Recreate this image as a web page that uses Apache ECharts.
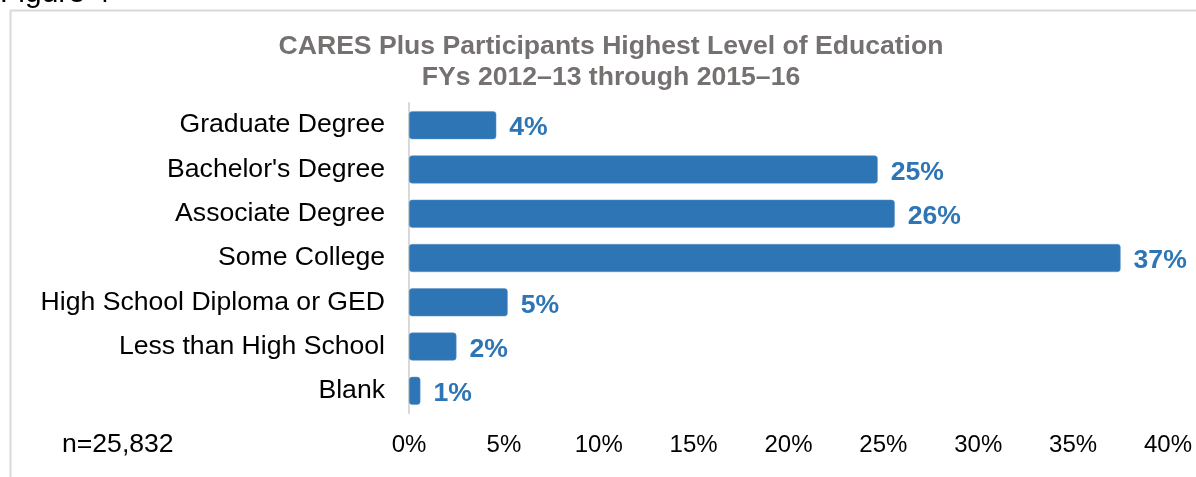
<!DOCTYPE html>
<html>
<head>
<meta charset="utf-8">
<script src="https://cdn.jsdelivr.net/npm/echarts@6/dist/echarts.min.js"></script>
<style>
  html, body { margin: 0; padding: 0; background: #ffffff; }
  #chart { width: 1196px; height: 477px; }
</style>
</head>
<body>
<div id="chart"></div>
<script>
// categories top -> bottom as shown
var categories = ["Graduate Degree", "Bachelor's Degree", "Associate Degree", "Some College",
  "High School Diploma or GED", "Less than High School", "Blank"];
// bar lengths (%)
var values = [4.6, 24.7, 25.6, 37.5, 5.2, 2.5, 0.6];
// labels as printed in the figure
var valueLabels = ["4%", "25%", "26%", "37%", "5%", "2%", "1%"];
var xTicks = [0, 5, 10, 15, 20, 25, 30, 35, 40];

var blue = "#2E75B6";
var font = "Liberation Sans, Arial, sans-serif";
var chart = echarts.init(document.getElementById("chart"));

var option = {
  animation: false,
  backgroundColor: "#ffffff",
  textStyle: { fontFamily: font },
  title: {
    text: "CARES Plus Participants Highest Level of Education\nFYs 2012\u201313 through 2015\u201316",
    left: 611,
    top: 31,
    padding: 0,
    textAlign: "center",
    textStyle: {
      color: "#767171",
      fontSize: 26.6,
      fontWeight: "bold",
      lineHeight: 31,
      fontFamily: font
    }
  },
  grid: { left: 409, right: 28, top: 103, height: 310, containLabel: false },
  xAxis: {
    type: "value",
    min: 0,
    max: 40,
    interval: 5,
    axisLine: { show: false },
    axisTick: { show: false },
    splitLine: { show: false },
    axisLabel: {
      color: "#000000",
      fontSize: 24,
      margin: 20,
      formatter: function (v) { return xTicks.indexOf(v) >= 0 ? v + "%" : ""; }
    }
  },
  yAxis: {
    type: "category",
    data: categories,
    inverse: true,
    axisLine: { show: true, lineStyle: { color: "#d9d9d9", width: 2 } },
    axisTick: { show: false },
    axisLabel: { color: "#000000", fontSize: 26.6, margin: 24 }
  },
  series: [{
    type: "bar",
    data: values,
    barWidth: 28,
    itemStyle: { color: blue, borderRadius: 3, borderColor: "#5b93c7", borderWidth: 0.5 },
    label: {
      show: true,
      position: "right",
      distance: 13,
      offset: [0, 3],
      color: blue,
      fontSize: 26.6,
      fontWeight: "bold",
      formatter: function (p) { return valueLabels[p.dataIndex]; }
    }
  }],
  graphic: [
    { type: "line", shape: { x1: 10.5, y1: 10, x2: 10.5, y2: 477 }, style: { stroke: "#d9d9d9", lineWidth: 2 } },
    { type: "line", shape: { x1: 10, y1: 10.5, x2: 1196, y2: 10.5 }, style: { stroke: "#d9d9d9", lineWidth: 2 } },
    { type: "text", left: 0, top: -21, style: { text: "Figure 4", fill: "#000000", font: "30px Liberation Sans, Arial, sans-serif" } },
    { type: "text", left: 62, top: 431, style: { text: "n=25,832", fill: "#000000", font: "26.6px Liberation Sans, Arial, sans-serif" } }
  ]
};

chart.setOption(option);
</script>
</body>
</html>
